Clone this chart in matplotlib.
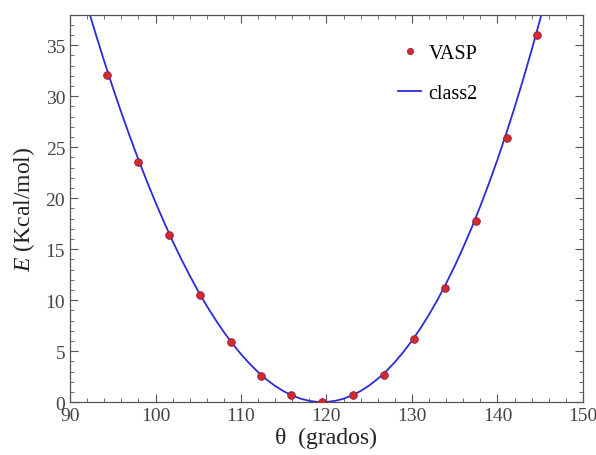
import matplotlib
matplotlib.use("Agg")
import matplotlib.pyplot as plt
from matplotlib.ticker import MultipleLocator

# VASP data points
vasp_theta = [94.3, 97.9, 101.6, 105.2, 108.8, 112.3, 115.9, 119.5,
              123.1, 126.7, 130.3, 133.9, 137.5, 141.1, 144.6]
vasp_E = [32.1, 23.5, 16.4, 10.5, 5.9, 2.6, 0.7, 0.0,
          0.7, 2.7, 6.2, 11.2, 17.8, 25.9, 36.0]

# class2 curve
curve_theta = list(range(92, 147))
curve_E = [38.87, 36.10, 33.42, 30.85, 28.39, 26.03, 23.78, 21.63, 19.58, 17.64,
           15.79, 14.05, 12.41, 10.87, 9.43, 8.10, 6.86, 5.73, 4.70, 3.77,
           2.94, 2.21, 1.58, 1.06, 0.64, 0.33, 0.12, 0.013, 0.013, 0.12,
           0.33, 0.66, 1.09, 1.63, 2.28, 3.04, 3.92, 4.91, 6.02, 7.24,
           8.58, 10.04, 11.63, 13.33, 15.17, 17.12, 19.21, 21.42, 23.76, 26.25,
           28.86, 31.61, 34.50, 37.53, 40.71]

plt.rcParams['font.family'] = ['Liberation Serif', 'DejaVu Serif']
plt.rcParams['mathtext.fontset'] = 'custom'
plt.rcParams['mathtext.it'] = 'Liberation Serif:italic'
plt.rcParams['mathtext.rm'] = 'Liberation Serif'

fig = plt.figure(figsize=(5.96, 4.56), dpi=100)
ax = fig.add_axes([0.1175, 0.116, 0.8605, 0.850])

ax.plot(curve_theta, curve_E, color='#2b2bd6', lw=1.3, label='class2', zorder=2)
ax.plot(vasp_theta, vasp_E, 'o', color='#d42a2a', mec='#8a1a4a', ms=5.5,
        mew=0.6, label='VASP', zorder=3, linestyle='none')

ax.set_xlim(90, 150)
ax.set_ylim(0, 38)
ax.xaxis.set_major_locator(MultipleLocator(10))
ax.xaxis.set_minor_locator(MultipleLocator(2))
ax.yaxis.set_major_locator(MultipleLocator(5))
ax.yaxis.set_minor_locator(MultipleLocator(1))
ax.tick_params(which='both', direction='in', top=True, right=True,
               labelsize=14, colors='#555555', labelcolor='#444444')
ax.tick_params(which='major', length=6, width=0.8)
ax.tick_params(which='minor', length=3, width=0.6)
for s in ax.spines.values():
    s.set_color('#555555')
    s.set_linewidth(0.9)

ax.set_xlabel('θ  (grados)', fontsize=17, color='#222222', labelpad=2)
ax.set_ylabel('$E$ (Kcal/mol)', fontsize=17, color='#222222', labelpad=6)

handles, labels = ax.get_legend_handles_labels()
ax.legend(handles[::-1], labels[::-1], loc='upper left',
          bbox_to_anchor=(0.605, 0.97), frameon=False, fontsize=14.5,
          handlelength=1.1, handletextpad=0.4, labelspacing=1.0,
          markerscale=0.8)

fig.savefig('out.png', dpi=100)
